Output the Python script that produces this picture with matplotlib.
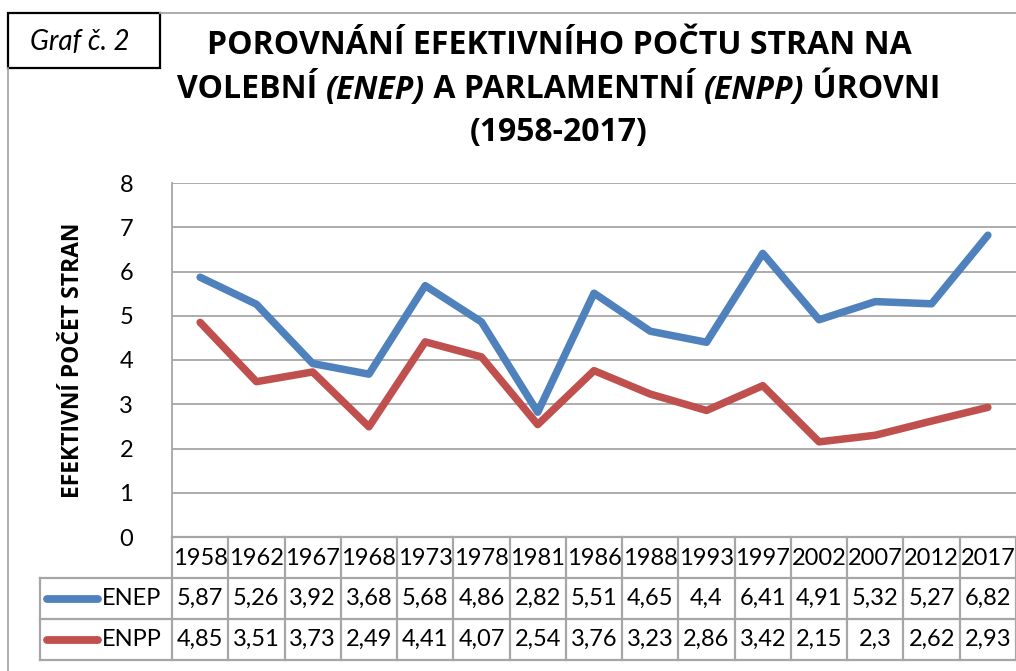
import matplotlib
matplotlib.use("Agg")
import matplotlib.pyplot as plt
from matplotlib.lines import Line2D
from matplotlib.patches import Rectangle

years = ["1958", "1962", "1967", "1968", "1973", "1978", "1981", "1986",
         "1988", "1993", "1997", "2002", "2007", "2012", "2017"]
enep = [5.87, 5.26, 3.92, 3.68, 5.68, 4.86, 2.82, 5.51, 4.65, 4.4, 6.41, 4.91, 5.32, 5.27, 6.82]
enpp = [4.85, 3.51, 3.73, 2.49, 4.41, 4.07, 2.54, 3.76, 3.23, 2.86, 3.42, 2.15, 2.3, 2.62, 2.93]
series_names = ["ENEP", "ENPP"]
yticks = [0, 1, 2, 3, 4, 5, 6, 7, 8]

BLUE = "#4F81BD"
RED = "#C0504D"
GRID = "#A6A6A6"
W, H = 1016, 671
NUMFS = 17

fig = plt.figure(figsize=(W / 100, H / 100), dpi=100)
fig.patch.set_facecolor("white")

def fx(px):
    return px / W

def fy(py):
    return 1 - py / H

# main axes
left_px, right_px, top_px, bot_px = 172, 1016, 183, 537
ax = fig.add_axes([fx(left_px), fy(bot_px), (right_px - left_px) / W, (bot_px - top_px) / H])
x = list(range(len(years)))
ax.plot(x, enep, color=BLUE, lw=5.4, solid_joinstyle="round", solid_capstyle="round", zorder=3)
ax.plot(x, enpp, color=RED, lw=5.4, solid_joinstyle="round", solid_capstyle="round", zorder=3)
ax.set_xlim(-0.5, len(years) - 0.5)
ax.set_ylim(0, 8)
ax.set_yticks(yticks)
ax.set_yticklabels([str(t) for t in yticks], fontsize=NUMFS, family="Lato")
ax.tick_params(axis="y", length=0, pad=28)
ax.set_xticks([])
for t in yticks:
    ax.axhline(t, color=GRID, lw=1.3, zorder=1)
for s in ["top", "right", "bottom"]:
    ax.spines[s].set_visible(False)
ax.spines["left"].set_color(GRID)
ax.spines["left"].set_linewidth(1.3)
ax.set_ylabel("EFEKTIVNÍ POČET STRAN", fontsize=16.5, family="Open Sans",
              fontweight="bold")
ax.yaxis.set_label_coords((85 - left_px) / (right_px - left_px), 0.5)

# table axes
tab_top, tab_bot = 537, 660
tab = fig.add_axes([fx(left_px), fy(tab_bot), (right_px - left_px) / W, (tab_bot - tab_top) / H])
tab.set_xlim(-0.5, len(years) - 0.5)
tab.set_ylim(3, 0)
tab.axis("off")
col_px = (right_px - left_px) / len(years)
leg_left = -0.5 - (left_px - 40) / col_px
kw = dict(color=GRID, lw=1.6, clip_on=False)
tab.plot([-0.5, len(years) - 0.5], [0, 0], **kw)
for yy in [1, 2, 3]:
    tab.plot([leg_left, len(years) - 0.5], [yy, yy], **kw)
for i in range(len(years) + 1):
    tab.plot([i - 0.5, i - 0.5], [0, 3], **kw)
tab.plot([leg_left, leg_left], [1, 3], **kw)

for i, yr in enumerate(years):
    tab.text(i, 0.52, yr, ha="center", va="center", fontsize=NUMFS, family="Lato", clip_on=False)
for r, (vals, name, col) in enumerate([(enep, series_names[0], BLUE), (enpp, series_names[1], RED)]):
    yy = 1.5 + r
    for i, v in enumerate(vals):
        tab.text(i, yy, f"{v:g}".replace(".", ","), ha="center", va="center",
                 fontsize=NUMFS, family="Lato", clip_on=False)
    x0 = leg_left + 7 / col_px
    x1 = leg_left + 58 / col_px
    tab.add_line(Line2D([x0, x1], [yy, yy], color=col, lw=5.6,
                        solid_capstyle="round", clip_on=False))
    tab.text(leg_left + 62 / col_px, yy, name, ha="left", va="center",
             fontsize=NUMFS, family="Lato", clip_on=False)

# chart border lines
fig.add_artist(Line2D([fx(8), fx(8)], [fy(68), fy(H + 5)], color=GRID, lw=1.3))
fig.add_artist(Line2D([fx(160), fx(W + 5)], [fy(13), fy(13)], color=GRID, lw=1.3))
fig.add_artist(Rectangle((fx(8), fy(68)), fx(160 - 8), (68 - 13) / H, fill=False,
                         edgecolor="black", lw=1.6))
fig.text(fx(80), fy(42), "Graf č. 2", ha="center", va="center", fontsize=20,
         family="Lato", style="italic")

# title
TFS = 23
fig.text(fx(559), fy(45), "POROVNÁNÍ EFEKTIVNÍHO POČTU STRAN NA", ha="center", va="center",
         fontsize=TFS, family="Open Sans", fontweight="bold")
fig.text(fx(559), fy(133), "(1958-2017)", ha="center", va="center",
         fontsize=TFS, family="Open Sans", fontweight="bold")

pieces = [("VOLEBNÍ ", "normal"), ("(ENEP)", "italic"), (" A PARLAMENTNÍ ", "normal"),
          ("(ENPP)", "italic"), (" ÚROVNI", "normal")]
renderer = fig.canvas.get_renderer()
texts = []
widths = []
for s, st in pieces:
    t = fig.text(0, fy(90), s, ha="left", va="center", fontsize=TFS,
                 family="Open Sans", fontweight="bold", style=st)
    texts.append(t)
    widths.append(t.get_window_extent(renderer).width)
total = sum(widths)
xs = 559 - total / 2
for t, w in zip(texts, widths):
    t.set_x(fx(xs))
    xs += w

fig.savefig("out.png", dpi=100, facecolor="white")
